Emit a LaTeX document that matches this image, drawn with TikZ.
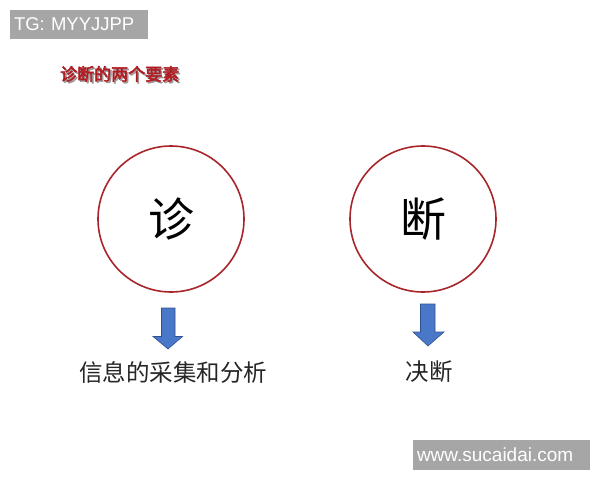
\documentclass[tikz,border=0pt]{standalone}
\usepackage{fontspec}
\setmainfont{Liberation Sans}
\newfontfamily\cjk{Noto Sans CJK SC}
\newfontfamily\cjkb{Noto Sans CJK SC}[FakeBold=3]
\definecolor{ringred}{HTML}{A8262B}
\definecolor{arrowblue}{HTML}{4A78C8}
\definecolor{arrowedge}{HTML}{2F528F}
\definecolor{tagbg}{HTML}{A6A6A6}
\definecolor{titlered}{HTML}{B01C22}
\tikzset{
  ring/.style={circle, draw=ringred, line width=1.6pt, minimum size=146pt, inner sep=0pt, font=\cjk\fontsize{46}{46}\selectfont},
  tag/.style={fill=tagbg, text=white, inner sep=0pt},
  caption/.style={font=\cjk\fontsize{23.5}{23.5}\selectfont, text=black!85},
  blockarrow/.style={fill=arrowblue, draw=arrowedge, line width=0.6pt, line join=miter}
}
\begin{document}
\begin{tikzpicture}[x=1pt,y=-1pt]
\useasboundingbox (0,0) rectangle (600,480);
\fill[white] (0,0) rectangle (600,480);
\node[tag, minimum width=138pt, minimum height=29pt, text width=130pt, align=left, font=\fontsize{18.5}{18.5}\selectfont] (tg) at (79,24.5) {TG: MYYJJPP};
\node[font=\cjkb\fontsize{17}{17}\selectfont, text=black!40, anchor=west, inner sep=0pt] (titsh) at (61.5,75.5) {诊断的两个要素};
\node[font=\cjkb\fontsize{17}{17}\selectfont, text=titlered, anchor=west, inner sep=0pt] (title) at (60,74) {诊断的两个要素};
\node[ring] (c1) at (171,219) {诊};
\node[ring] (c2) at (423,219) {断};
\draw[blockarrow] (161.5,308) -- (175,308) -- (175,336.5) -- (182.5,336.5) -- (168,349) -- (153,336.5) -- (161.5,336.5) -- cycle;
\draw[blockarrow] (420.5,304) -- (435,304) -- (435,332) -- (444,332) -- (428,346) -- (413,332) -- (420.5,332) -- cycle;
\node[caption] (t1) at (173,372) {信息的采集和分析};
\node[caption] (t2) at (429,372) {决断};
\node[tag, minimum width=177pt, minimum height=30pt, text width=169pt, align=left, font=\fontsize{19}{19}\selectfont] (wm) at (501.5,455) {www.sucaidai.com};
\end{tikzpicture}
\end{document}
